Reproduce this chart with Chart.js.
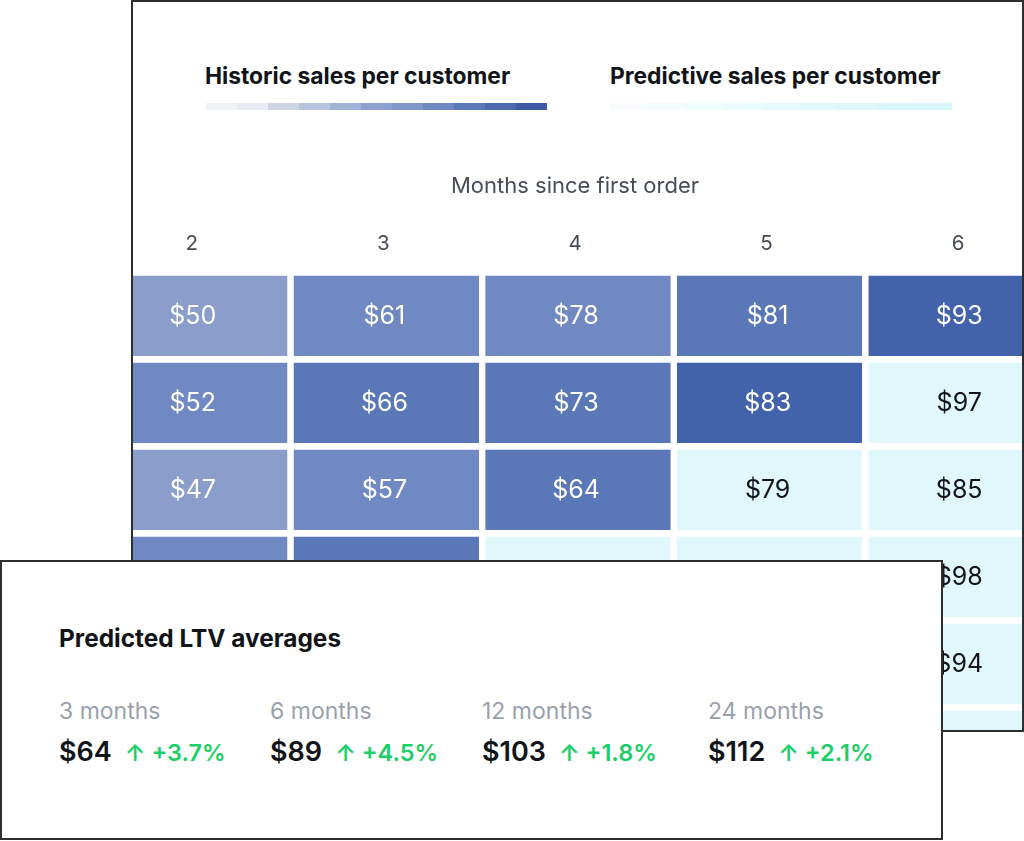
<!DOCTYPE html>
<html>
<head>
<meta charset="utf-8">
<script src="https://cdn.jsdelivr.net/npm/chart.js@4.4.1/dist/chart.umd.min.js"></script>
<style>
  html, body { margin: 0; padding: 0; background: #ffffff; }
  body { width: 1024px; height: 841px; position: relative; overflow: hidden; font-family: Inter, "Noto Sans", sans-serif; }
  #panel { position: absolute; left: 131px; top: 0; width: 889px; height: 728px; border: 2px solid #2e2e2e; background: #fff; overflow: hidden; }
  #wrap { position: absolute; left: -37px; top: 148px; width: 958px; height: 641px; }
  .lgTitle { position: absolute; font-size: 22.8px; line-height: 1; font-weight: 700; color: #111418; white-space: nowrap; }
  .lgBar { position: absolute; height: 7px; display: flex; }
  .lgBar div { flex: 1 1 0; height: 100%; }
  #card { position: absolute; left: 0; top: 560px; width: 939px; height: 276px; border: 2px solid #2e2e2e; background: #fff; z-index: 5; }
  .cardTitle { position: absolute; left: 57px; font-size: 24.4px; line-height: 1; font-weight: 700; color: #111418; white-space: nowrap; }
  .stat { position: absolute; white-space: nowrap; }
  .stat .lbl { position: absolute; left: 0; font-size: 23px; line-height: 1; color: #9aa1ac; }
  .stat .val { position: absolute; left: 0; line-height: 1; }
  .stat .num { font-size: 27px; font-weight: 600; color: #111418; }
  .stat .chg { font-size: 23.5px; font-weight: 600; color: #1ccf6a; margin-left: 13px; }
</style>
</head>
<body>
<div id="panel">
  <div id="wrap"><canvas id="c"></canvas></div>
</div>
<div class="lgTitle" style="left:205px; top:65.3px;">Historic sales per customer</div>
<div class="lgBar" id="histBar" style="left:206px; top:103px; width:341px;"></div>
<div class="lgTitle" style="left:610px; top:65.3px;">Predictive sales per customer</div>
<div class="lgBar" id="predBar" style="left:610px; top:103px; width:342px;"></div>

<div id="card"></div>

<script>
// ---- data ----
const months = ['2', '3', '4', '5', '6'];
const axisTitle = 'Months since first order';

const cohort1 = [50, 61, 78, 81, 93];
const cohort2 = [52, 66, 73, 83, 97];
const cohort3 = [47, 57, 64, 79, 85];
const cohort4 = [55, 68, 76, 87, 98];
const cohort5 = [49, 63, 74, 84, 94];
const cohort6 = [52, 65, 75, 86, 96];
const cohorts = [cohort1, cohort2, cohort3, cohort4, cohort5, cohort6];

// number of historic (observed) months in each cohort; the rest are predicted
const historicMonths = [5, 4, 3, 2, 1, 0];
// heat intensity level (1 = light .. 4 = dark) of historic cells
const heatLevel1 = [1, 2, 2, 3, 4];
const heatLevel2 = [2, 3, 3, 4];
const heatLevel3 = [1, 2, 3];
const heatLevel4 = [2, 3];
const heatLevel5 = [2];
const heatLevel6 = [];
const heatLevels = [heatLevel1, heatLevel2, heatLevel3, heatLevel4, heatLevel5, heatLevel6];

const ltvPeriods = ['3 months', '6 months', '12 months', '24 months'];
const ltvValues = ['$64', '$89', '$103', '$112'];
const ltvChanges = ['+3.7%', '+4.5%', '+1.8%', '+2.1%'];

// ---- styles ----
const histPalette = { 1: '#8b9ecb', 2: '#7189c3', 3: '#5a77b8', 4: '#4262ab' };
const predColor = '#e0f8fc';
const histLegendSteps = ['#f1f2f6', '#e8ebf1', '#cdd3e0', '#b8c3dd', '#a2b2d7', '#8d9fcf', '#8195c8', '#7189c2', '#5b78b8', '#4b6ab0', '#3c5aa8'];
const predLegendSteps = ['#f9fdfe', '#f4fcfd', '#effbfd', '#ebfafc', '#e6f9fc', '#e3f8fb', '#dff7fb', '#dbf6fa', '#d8f6fa'];

function fillSteps(id, steps) {
  const el = document.getElementById(id);
  steps.forEach(c => { const d = document.createElement('div'); d.style.background = c; el.appendChild(d); });
}
fillSteps('histBar', histLegendSteps);
fillSteps('predBar', predLegendSteps);

// ---- card ----
const card = document.getElementById('card');
const ct = document.createElement('div');
ct.className = 'cardTitle';
ct.style.top = (646.7 - 562 - 0.8633 * 24.4) + 'px';
ct.textContent = 'Predicted LTV averages';
card.appendChild(ct);
const statLeft = [57, 268, 480, 706];
ltvPeriods.forEach((p, i) => {
  const s = document.createElement('div');
  s.className = 'stat';
  s.style.left = statLeft[i] + 'px';
  s.style.top = '0px';
  const l = document.createElement('div');
  l.className = 'lbl';
  l.style.top = (720 - 562 - 0.8633 * 23) + 'px';
  l.textContent = p;
  const v = document.createElement('div');
  v.className = 'val';
  v.style.fontSize = '27px';
  v.style.top = (761.7 - 562 - 0.8633 * 27) + 'px';
  const n = document.createElement('span'); n.className = 'num'; n.textContent = ltvValues[i];
  const g = document.createElement('span'); g.className = 'chg'; g.textContent = '\u2191 ' + ltvChanges[i];
  v.appendChild(n); v.appendChild(g);
  s.appendChild(l); s.appendChild(v);
  card.appendChild(s);
});

// ---- heatmap chart ----
const datasets = cohorts.map((vals, r) => ({
  label: 'Cohort ' + (r + 1),
  data: months.map(() => [r, r + 1]),
  values: vals,
  backgroundColor: vals.map((v, c) => c < historicMonths[r] ? histPalette[heatLevels[r][c]] : predColor),
  borderColor: '#ffffff',
  borderWidth: { top: 7, left: 6.5, right: 0, bottom: 0 },
  borderSkipped: false,
  grouped: false,
  barPercentage: 1,
  categoryPercentage: 1
}));

const cellLabels = {
  id: 'cellLabels',
  afterDatasetsDraw(chart) {
    const ctx = chart.ctx;
    ctx.save();
    ctx.font = '400 25px Inter, "Noto Sans", sans-serif';
    ctx.textAlign = 'center';
    ctx.textBaseline = 'middle';
    chart.data.datasets.forEach((ds, r) => {
      const meta = chart.getDatasetMeta(r);
      meta.data.forEach((el, c) => {
        const top = Math.min(el.y, el.base) + 7;
        const bottom = Math.max(el.y, el.base);
        ctx.fillStyle = c < historicMonths[r] ? '#ffffff' : '#111418';
        ctx.fillText('$' + ds.values[c], el.x + 1, (top + bottom) / 2 + 0.5);
      });
    });
    ctx.restore();
  }
};

new Chart(document.getElementById('c'), {
  type: 'bar',
  data: { labels: months, datasets },
  options: {
    responsive: true,
    maintainAspectRatio: false,
    animation: false,
    events: [],
    layout: { padding: { top: 23, left: 0, right: 0, bottom: 0 } },
    plugins: { legend: { display: false }, tooltip: { enabled: false } },
    scales: {
      x: {
        type: 'category',
        position: 'top',
        offset: true,
        grid: { display: false, drawTicks: false },
        border: { display: false },
        ticks: { color: '#474d56', font: { family: 'Inter', size: 20.5 }, padding: 12.5 },
        title: { display: true, text: axisTitle, color: '#474d56', font: { family: 'Inter', size: 22 }, padding: { top: 0, bottom: 30 } },
        afterFit(scale) { scale.height = 96; }
      },
      y: { type: 'linear', min: 0, max: 6, reverse: true, display: false }
    }
  },
  plugins: [cellLabels]
});
</script>
</body>
</html>
